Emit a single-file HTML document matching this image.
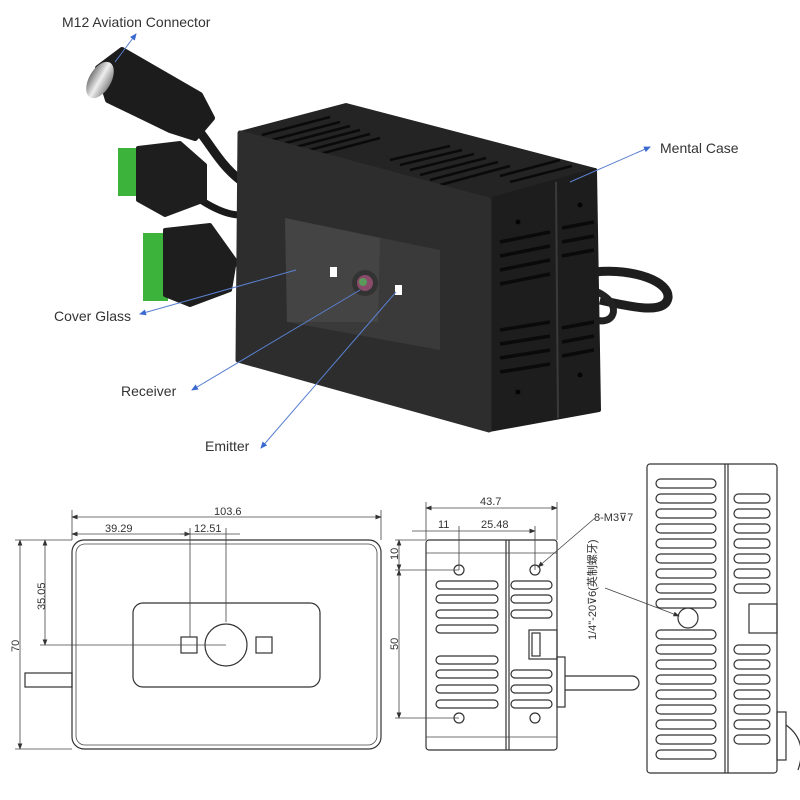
<!DOCTYPE html>
<html><head><meta charset="utf-8"><style>
html,body{margin:0;padding:0;background:#fff;}
svg{display:block;}
.lb{font-family:"Liberation Sans",sans-serif;font-size:14px;fill:#333;}
.dm{font-family:"Liberation Sans",sans-serif;font-size:11px;fill:#333;}
.l{stroke:#333;fill:none;stroke-width:1.2;}
.t{stroke:#444;fill:none;stroke-width:0.8;}
</style></head><body>
<svg width="800" height="800" viewBox="0 0 800 800" xmlns="http://www.w3.org/2000/svg">
<defs>
<marker id="ba" markerWidth="8" markerHeight="8" refX="6" refY="4" orient="auto"><path d="M0,1 L7,4 L0,7 Z" fill="#3a6ad0"/></marker>
<marker id="da" markerWidth="8" markerHeight="6" refX="7" refY="3" orient="auto"><path d="M0,0 L8,3 L0,6 Z" fill="#333"/></marker>
<marker id="ds" markerWidth="8" markerHeight="6" refX="1" refY="3" orient="auto"><path d="M8,0 L0,3 L8,6 Z" fill="#333"/></marker>
<linearGradient id="sil" x1="0" y1="0" x2="1" y2="0"><stop offset="0" stop-color="#777"/><stop offset=".5" stop-color="#eee"/><stop offset="1" stop-color="#888"/></linearGradient>
</defs>

<!-- cables -->
<path d="M185,115 C210,140 215,160 240,180" stroke="#1a1a1a" stroke-width="9" fill="none"/>
<path d="M180,185 C205,205 225,215 240,215" stroke="#1a1a1a" stroke-width="7" fill="none"/>
<path d="M200,270 C215,270 230,265 240,262" stroke="#1a1a1a" stroke-width="7" fill="none"/>
<!-- M12 connector -->
<path d="M98,68 L122,50 L200,95 L212,118 L195,138 L170,130 L108,100 Z" fill="#1c1c1c" stroke="#1c1c1c" stroke-width="6" stroke-linejoin="round"/>
<ellipse cx="100" cy="80" rx="11" ry="20" transform="rotate(30 100 80)" fill="url(#sil)"/>
<!-- green plugs -->
<rect x="118" y="148" width="22" height="48" fill="#3cb43c"/>
<path d="M138,148 L180,143 L205,165 L205,200 L165,215 L138,200 Z" fill="#1e1e1e" stroke="#1e1e1e" stroke-width="4" stroke-linejoin="round"/>
<rect x="143" y="233" width="25" height="68" fill="#3cb43c"/>
<path d="M165,230 L210,225 L235,260 L230,290 L190,305 L165,295 Z" fill="#1e1e1e" stroke="#1e1e1e" stroke-width="4" stroke-linejoin="round"/>
<!-- loop cable right -->
<path d="M595,272 C635,268 670,282 668,298 C665,314 635,308 600,300" stroke="#1e1e1e" stroke-width="9" fill="none"/>
<path d="M585,288 C605,292 618,305 612,316 C605,326 590,318 580,314" stroke="#222" stroke-width="7" fill="none"/>

<!-- case -->
<polygon points="240,133 346,105 595,170 489,200" fill="#242424" stroke="#242424" stroke-width="4" stroke-linejoin="round"/>
<g stroke="#0a0a0a" stroke-width="2.6">
<line x1="262" y1="135" x2="330" y2="117"/><line x1="272" y1="140" x2="340" y2="122"/>
<line x1="282" y1="144" x2="350" y2="126"/><line x1="292" y1="148" x2="360" y2="130"/>
<line x1="302" y1="152" x2="370" y2="134"/><line x1="312" y1="156" x2="380" y2="138"/>
<line x1="390" y1="160" x2="450" y2="146"/><line x1="400" y1="165" x2="462" y2="150"/>
<line x1="410" y1="170" x2="474" y2="154"/><line x1="420" y1="175" x2="486" y2="158"/>
<line x1="430" y1="180" x2="498" y2="162"/><line x1="440" y1="185" x2="510" y2="166"/>
<line x1="500" y1="176" x2="560" y2="160"/><line x1="510" y1="182" x2="572" y2="166"/>
</g>
<polygon points="489,200 595,170 599,410 489,430" fill="#1d1d1d" stroke="#1d1d1d" stroke-width="4" stroke-linejoin="round"/>
<line x1="556" y1="182" x2="558" y2="418" stroke="#3a3a3a" stroke-width="2"/>
<g stroke="#0a0a0a" stroke-width="3.5">
<line x1="500" y1="242" x2="550" y2="232"/><line x1="500" y1="256" x2="550" y2="246"/><line x1="500" y1="270" x2="550" y2="260"/><line x1="500" y1="284" x2="550" y2="274"/>
<line x1="500" y1="330" x2="550" y2="322"/><line x1="500" y1="344" x2="550" y2="336"/><line x1="500" y1="358" x2="550" y2="350"/><line x1="500" y1="372" x2="550" y2="364"/>
<line x1="562" y1="228" x2="594" y2="222"/><line x1="562" y1="242" x2="594" y2="236"/><line x1="562" y1="256" x2="594" y2="250"/>
<line x1="562" y1="328" x2="594" y2="322"/><line x1="562" y1="342" x2="594" y2="336"/><line x1="562" y1="356" x2="594" y2="350"/>
</g>
<g fill="#050505"><circle cx="518" cy="222" r="2.5"/><circle cx="518" cy="392" r="2.5"/><circle cx="580" cy="205" r="2.5"/><circle cx="580" cy="375" r="2.5"/></g>
<polygon points="240,133 489,200 489,430 238,360" fill="#2d2d2d" stroke="#2d2d2d" stroke-width="5" stroke-linejoin="round"/>
<polygon points="285,218 440,250 440,350 287,322" fill="#3a3a3a"/>
<polygon points="285,218 380,238 378,322 287,322" fill="#444"/>
<circle cx="365" cy="283" r="13" fill="#333"/>
<circle cx="365" cy="283" r="8" fill="#8a4a6a"/>
<circle cx="363" cy="282" r="4" fill="#5a9a5a"/>
<rect x="330" y="267" width="7" height="10" fill="#fff"/>
<rect x="395" y="285" width="7" height="10" fill="#fff"/>

<!-- labels -->
<text x="62" y="27" class="lb">M12 Aviation Connector</text>
<line x1="115" y1="62" x2="136" y2="34" stroke="#5a80d0" marker-end="url(#ba)"/>
<text x="660" y="153" class="lb">Mental Case</text>
<line x1="570" y1="182" x2="650" y2="147" stroke="#5a80d0" marker-end="url(#ba)"/>
<text x="54" y="321" class="lb">Cover Glass</text>
<line x1="296" y1="270" x2="140" y2="314" stroke="#5a80d0" marker-end="url(#ba)"/>
<text x="121" y="396" class="lb">Receiver</text>
<line x1="360" y1="290" x2="192" y2="390" stroke="#5a80d0" marker-end="url(#ba)"/>
<text x="205" y="451" class="lb">Emitter</text>
<line x1="396" y1="292" x2="261" y2="448" stroke="#5a80d0" marker-end="url(#ba)"/>

<!-- front view drawing -->
<rect x="72" y="540" width="309" height="209" rx="12" class="l"/>
<rect x="76" y="544" width="301" height="201" rx="9" class="t"/>
<rect x="133" y="603" width="187" height="84" rx="10" class="l"/>
<circle cx="226" cy="645" r="21" class="l"/>
<rect x="181" y="637" width="16" height="16" class="l"/>
<rect x="256" y="637" width="16" height="16" class="l"/>
<rect x="25" y="673" width="47" height="14" class="l"/>
<line x1="72" y1="517" x2="381" y2="517" class="t" marker-start="url(#ds)" marker-end="url(#da)"/>
<line x1="72" y1="510" x2="72" y2="540" class="t"/><line x1="381" y1="510" x2="381" y2="540" class="t"/>
<text x="214" y="515" class="dm">103.6</text>
<line x1="72" y1="534" x2="190" y2="534" class="t" marker-start="url(#ds)" marker-end="url(#da)"/>
<text x="105" y="532" class="dm">39.29</text>
<line x1="180" y1="534" x2="240" y2="534" class="t"/>
<text x="194" y="532" class="dm">12.51</text>
<line x1="190" y1="528" x2="190" y2="637" class="t"/>
<line x1="226" y1="528" x2="226" y2="622" class="t"/>
<line x1="40" y1="645" x2="226" y2="645" class="t"/>
<line x1="45" y1="540" x2="45" y2="645" class="t" marker-start="url(#ds)" marker-end="url(#da)"/>
<line x1="20" y1="540" x2="20" y2="749" class="t" marker-start="url(#ds)" marker-end="url(#da)"/>
<line x1="15" y1="540" x2="72" y2="540" class="t"/><line x1="15" y1="749" x2="72" y2="749" class="t"/>
<text x="0" y="0" class="dm" transform="translate(45,610) rotate(-90)">35.05</text>
<text x="0" y="0" class="dm" transform="translate(19,652) rotate(-90)">70</text>

<!-- side view -->
<rect x="426" y="540" width="131" height="210" rx="3" class="l"/>
<line x1="506" y1="540" x2="506" y2="750" class="l"/><line x1="509" y1="540" x2="509" y2="750" class="l"/>
<line x1="426" y1="553" x2="557" y2="553" class="t"/><line x1="426" y1="737" x2="557" y2="737" class="t"/>
<g class="l"><circle cx="459" cy="570" r="5"/><circle cx="535" cy="570" r="5"/><circle cx="459" cy="718" r="5"/><circle cx="535" cy="718" r="5"/></g>
<g class="l">
<rect x="436" y="581" width="62" height="8" rx="4"/><rect x="436" y="595" width="62" height="8" rx="4"/><rect x="436" y="610" width="62" height="8" rx="4"/><rect x="436" y="625" width="62" height="8" rx="4"/>
<rect x="436" y="656" width="62" height="8" rx="4"/><rect x="436" y="670" width="62" height="8" rx="4"/><rect x="436" y="685" width="62" height="8" rx="4"/><rect x="436" y="700" width="62" height="8" rx="4"/>
<rect x="511" y="581" width="41" height="8" rx="4"/><rect x="511" y="595" width="41" height="8" rx="4"/><rect x="511" y="610" width="41" height="8" rx="4"/>
<rect x="511" y="670" width="41" height="8" rx="4"/><rect x="511" y="685" width="41" height="8" rx="4"/><rect x="511" y="700" width="41" height="8" rx="4"/>
<rect x="529" y="630" width="28" height="29"/><rect x="532" y="633" width="8" height="23"/>
<rect x="557" y="657" width="8" height="50"/>
<path d="M565,676 L632,676 A7,7 0 0 1 632,690 L565,690"/>
</g>
<line x1="426" y1="508" x2="557" y2="508" class="t" marker-start="url(#ds)" marker-end="url(#da)"/>
<line x1="426" y1="502" x2="426" y2="540" class="t"/><line x1="557" y1="502" x2="557" y2="540" class="t"/>
<text x="480" y="505" class="dm">43.7</text>
<line x1="412" y1="531" x2="535" y2="531" class="t" marker-end="url(#da)"/>
<text x="438" y="528" class="dm">11</text><text x="481" y="528" class="dm">25.48</text>
<line x1="459" y1="526" x2="459" y2="570" class="t"/><line x1="535" y1="526" x2="535" y2="570" class="t"/>
<line x1="395" y1="540" x2="426" y2="540" class="t"/><line x1="395" y1="570" x2="459" y2="570" class="t"/><line x1="395" y1="718" x2="459" y2="718" class="t"/>
<line x1="399" y1="540" x2="399" y2="570" class="t" marker-start="url(#ds)" marker-end="url(#da)"/>
<line x1="399" y1="570" x2="399" y2="718" class="t" marker-start="url(#ds)" marker-end="url(#da)"/>
<text x="0" y="0" class="dm" transform="translate(398,560) rotate(-90)">10</text>
<text x="0" y="0" class="dm" transform="translate(398,650) rotate(-90)">50</text>
<text x="594" y="521" class="dm">8-M3⊽7</text>
<line x1="595" y1="518" x2="538" y2="567" class="t" marker-end="url(#da)"/>

<!-- end view -->
<rect x="647" y="464" width="130" height="309" rx="3" class="l"/>
<line x1="725" y1="464" x2="725" y2="773" class="l"/><line x1="728" y1="464" x2="728" y2="773" class="l"/>
<g class="l">
<rect x="656" y="479" width="60" height="9" rx="4.5"/><rect x="656" y="494" width="60" height="9" rx="4.5"/><rect x="656" y="509" width="60" height="9" rx="4.5"/><rect x="656" y="524" width="60" height="9" rx="4.5"/><rect x="656" y="539" width="60" height="9" rx="4.5"/><rect x="656" y="554" width="60" height="9" rx="4.5"/><rect x="656" y="569" width="60" height="9" rx="4.5"/><rect x="656" y="584" width="60" height="9" rx="4.5"/><rect x="656" y="599" width="60" height="9" rx="4.5"/>
<rect x="656" y="630" width="60" height="9" rx="4.5"/><rect x="656" y="645" width="60" height="9" rx="4.5"/><rect x="656" y="660" width="60" height="9" rx="4.5"/><rect x="656" y="675" width="60" height="9" rx="4.5"/><rect x="656" y="690" width="60" height="9" rx="4.5"/><rect x="656" y="705" width="60" height="9" rx="4.5"/><rect x="656" y="720" width="60" height="9" rx="4.5"/><rect x="656" y="735" width="60" height="9" rx="4.5"/><rect x="656" y="750" width="60" height="9" rx="4.5"/>
<rect x="734" y="494" width="36" height="9" rx="4.5"/><rect x="734" y="509" width="36" height="9" rx="4.5"/><rect x="734" y="524" width="36" height="9" rx="4.5"/><rect x="734" y="539" width="36" height="9" rx="4.5"/><rect x="734" y="554" width="36" height="9" rx="4.5"/><rect x="734" y="569" width="36" height="9" rx="4.5"/><rect x="734" y="584" width="36" height="9" rx="4.5"/>
<rect x="734" y="645" width="36" height="9" rx="4.5"/><rect x="734" y="660" width="36" height="9" rx="4.5"/><rect x="734" y="675" width="36" height="9" rx="4.5"/><rect x="734" y="690" width="36" height="9" rx="4.5"/><rect x="734" y="705" width="36" height="9" rx="4.5"/><rect x="734" y="720" width="36" height="9" rx="4.5"/><rect x="734" y="735" width="36" height="9" rx="4.5"/>
<circle cx="688" cy="618" r="10"/>
<rect x="749" y="604" width="28" height="29"/>
<rect x="777" y="712" width="9" height="48"/>
<path d="M786,725 C800,735 805,750 798,770"/>
</g>
<text x="0" y="0" class="dm" transform="translate(596,640) rotate(-90)">1/4"-20⊽6(英制螺牙)</text>
<line x1="605" y1="588" x2="679" y2="616" class="t" marker-end="url(#da)"/>
</svg>
</body></html>
